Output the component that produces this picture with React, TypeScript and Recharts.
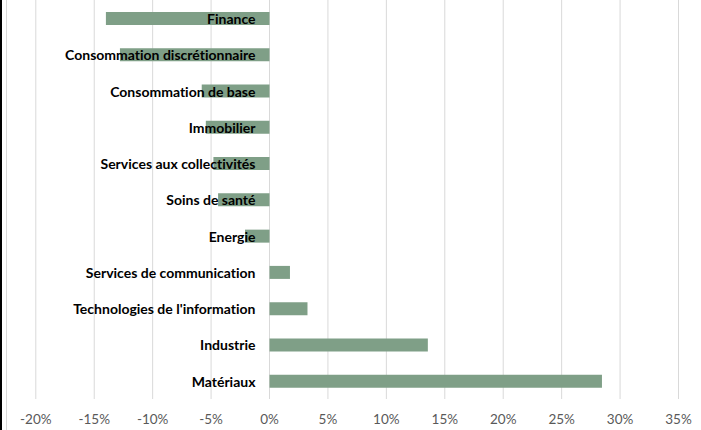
import React from "react";
import { BarChart, Bar, XAxis, YAxis, CartesianGrid, LabelList } from "recharts";

const sectors = [
  "Finance",
  "Consommation discrétionnaire",
  "Consommation de base",
  "Immobilier",
  "Services aux collectivités",
  "Soins de santé",
  "Energie",
  "Services de communication",
  "Technologies de l'information",
  "Industrie",
  "Matériaux",
];
const values = [-14.0, -12.8, -5.8, -5.45, -4.8, -4.4, -2.1, 1.75, 3.25, 13.55, 28.45];
const xTicks = [-20, -15, -10, -5, 0, 5, 10, 15, 20, 25, 30, 35];

const data = sectors.map((name, i) => ({ name, value: values[i] }));

const FONT = "Lato, 'Open Sans', sans-serif";

const CategoryLabel = (props: any) => {
  const { x, y, width, height, value, index } = props;
  const v = values[index];
  const left = Math.min(x, x + width);
  const right = Math.max(x, x + width);
  const zeroX = v >= 0 ? left : right;
  return (
    <text
      x={zeroX - 14}
      y={y + height / 2}
      textAnchor="end"
      dominantBaseline="central"
      fontFamily={FONT}
      fontWeight={700}
      fontSize={14}
      fill="#000000"
      style={{ fontVariantLigatures: "none" }}
    >
      {value}
    </text>
  );
};

export default function App() {
  return (
    <div style={{ position: "absolute", left: 0, top: 0, width: 701, height: 430, background: "#fff" }}>
      <div style={{ position: "absolute", left: 0, top: 0, width: 2, height: 430, background: "#000" }} />
      <div style={{ position: "absolute", left: 6, top: 0, width: 1, height: 430, background: "#d9d9d9" }} />
      <BarChart
        width={701}
        height={430}
        data={data}
        layout="vertical"
        margin={{ top: 0, right: 22.5, bottom: 0, left: 35.8 }}
      >
        <CartesianGrid horizontal={false} vertical={true} stroke="#d9d9d9" strokeWidth={1} />
        <XAxis
          type="number"
          domain={[-20, 35]}
          ticks={xTicks}
          interval={0}
          axisLine={false}
          tickLine={false}
          tickMargin={9}
          height={31}
          tickFormatter={(t: number) => `${t}%`}
          tick={{ fill: "#595959", fontSize: 13.5, fontFamily: FONT }}
        />
        <YAxis type="category" dataKey="name" hide width={0} />
        <Bar dataKey="value" fill="#7F9F87" barSize={13} isAnimationActive={false}>
          <LabelList dataKey="name" content={CategoryLabel} />
        </Bar>
      </BarChart>
    </div>
  );
}
